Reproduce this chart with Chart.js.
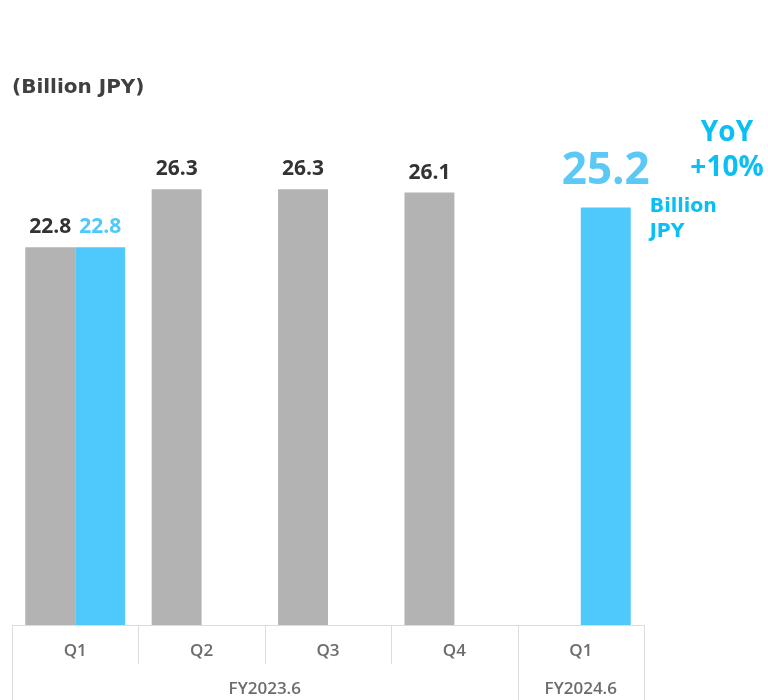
<!DOCTYPE html>
<html>
<head>
<meta charset="utf-8">
<script src="https://cdn.jsdelivr.net/npm/chart.js@4.4.1/dist/chart.umd.min.js"></script>
<style>
  html, body { margin: 0; padding: 0; background: #fff; }
</style>
</head>
<body>
<canvas id="chart" width="768" height="700"></canvas>
<script>
const quarters = ['Q1', 'Q2', 'Q3', 'Q4', 'Q1']
const fiscalYears = ['FY2023.6', 'FY2024.6']
const quartersPerYear = [4, 1]
const prevYearSales = [22.8, 26.3, 26.3, 26.1, null]
const currentSales = [22.8, null, null, null, 25.2]
const yoyLines = ['YoY', '+10%']
const unitLines = ['Billion', 'JPY']

const GRAY = '#b3b3b3'
const BLUE = '#4fc9fc'
const ACCENT = '#0bbff5'
const LINE = '#dcdcdc'
const FONT = "'Open Sans', sans-serif"
const WIDE = "'DejaVu Sans', sans-serif"

// value labels, the table under the bars and the YoY note
const overlay = {
  id: 'overlay',
  afterDraw (chart) {
    const ctx = chart.ctx
    const x = chart.scales.x
    const area = chart.chartArea
    const half = (x.getPixelForValue(1) - x.getPixelForValue(0)) / 2
    const bottom = chart.height

    ctx.save()
    // table lines
    ctx.strokeStyle = LINE
    ctx.lineWidth = 1
    let start = 0
    const yearEdges = [0]
    quartersPerYear.forEach(n => { start += n; yearEdges.push(start) })
    for (let i = 0; i <= quarters.length; i++) {
      const px = Math.round(x.getPixelForValue(i) - half) + 0.5
      const full = yearEdges.includes(i)
      ctx.beginPath()
      ctx.moveTo(px, area.bottom)
      ctx.lineTo(px, full ? bottom : area.bottom + 39)
      ctx.stroke()
    }

    // fiscal year labels
    ctx.fillStyle = '#6c6c6c'
    ctx.font = `600 17px ${FONT}`
    ctx.textAlign = 'center'
    ctx.textBaseline = 'middle'
    fiscalYears.forEach((fy, i) => {
      const l = x.getPixelForValue(yearEdges[i]) - half
      const r = x.getPixelForValue(yearEdges[i + 1]) - half
      ctx.fillText(fy, (l + r) / 2, area.bottom + 64)
    })

    // value labels
    chart.data.datasets.forEach((ds, di) => {
      const meta = chart.getDatasetMeta(di)
      meta.data.forEach((bar, i) => {
        const v = ds.data[i]
        if (v == null) return
        const big = di === 1 && i === quarters.length - 1
        ctx.fillStyle = big ? '#5bc8f5' : (di === 0 ? '#333333' : BLUE)
        ctx.font = big ? `700 44px ${FONT}` : `700 21px ${FONT}`
        ctx.fillText(v.toFixed(1), bar.x, bar.y - (big ? 36 : 20))
        if (big) {
          ctx.fillStyle = ACCENT
          ctx.font = `700 19px ${WIDE}`
          ctx.textAlign = 'left'
          unitLines.forEach((t, k) => ctx.fillText(t, bar.x + bar.width / 2 + 19, bar.y + k * 25))
          ctx.textAlign = 'center'
        }
      })
    })

    // YoY note
    ctx.fillStyle = ACCENT
    ctx.font = `700 28px ${FONT}`
    yoyLines.forEach((t, k) => ctx.fillText(t, area.right + 83, 133 + k * 35))
    ctx.restore()
  }
}

new Chart(document.getElementById('chart'), {
  type: 'bar',
  data: {
    labels: quarters,
    datasets: [
      { data: prevYearSales, backgroundColor: GRAY },
      { data: currentSales, backgroundColor: BLUE }
    ]
  },
  options: {
    responsive: false,
    animation: false,
    layout: { padding: { left: 12, right: 124, top: 0, bottom: 0 } },
    datasets: { bar: { barPercentage: 1, categoryPercentage: 0.79 } },
    plugins: {
      legend: { display: false },
      tooltip: { enabled: false },
      title: {
        display: true,
        text: '(Billion JPY)',
        align: 'start',
        color: '#404040',
        font: { family: WIDE, size: 20, weight: '700' },
        padding: { top: 76, bottom: 28 }
      }
    },
    scales: {
      x: {
        afterFit (scale) { scale.height = 75 },
        grid: { display: false, drawTicks: false },
        border: { display: true, color: LINE },
        ticks: { color: '#6c6c6c', padding: 16, font: { family: FONT, size: 17, weight: '600' } }
      },
      y: { display: false, min: 0, max: 30 }
    }
  },
  plugins: [overlay]
})
</script>
</body>
</html>
